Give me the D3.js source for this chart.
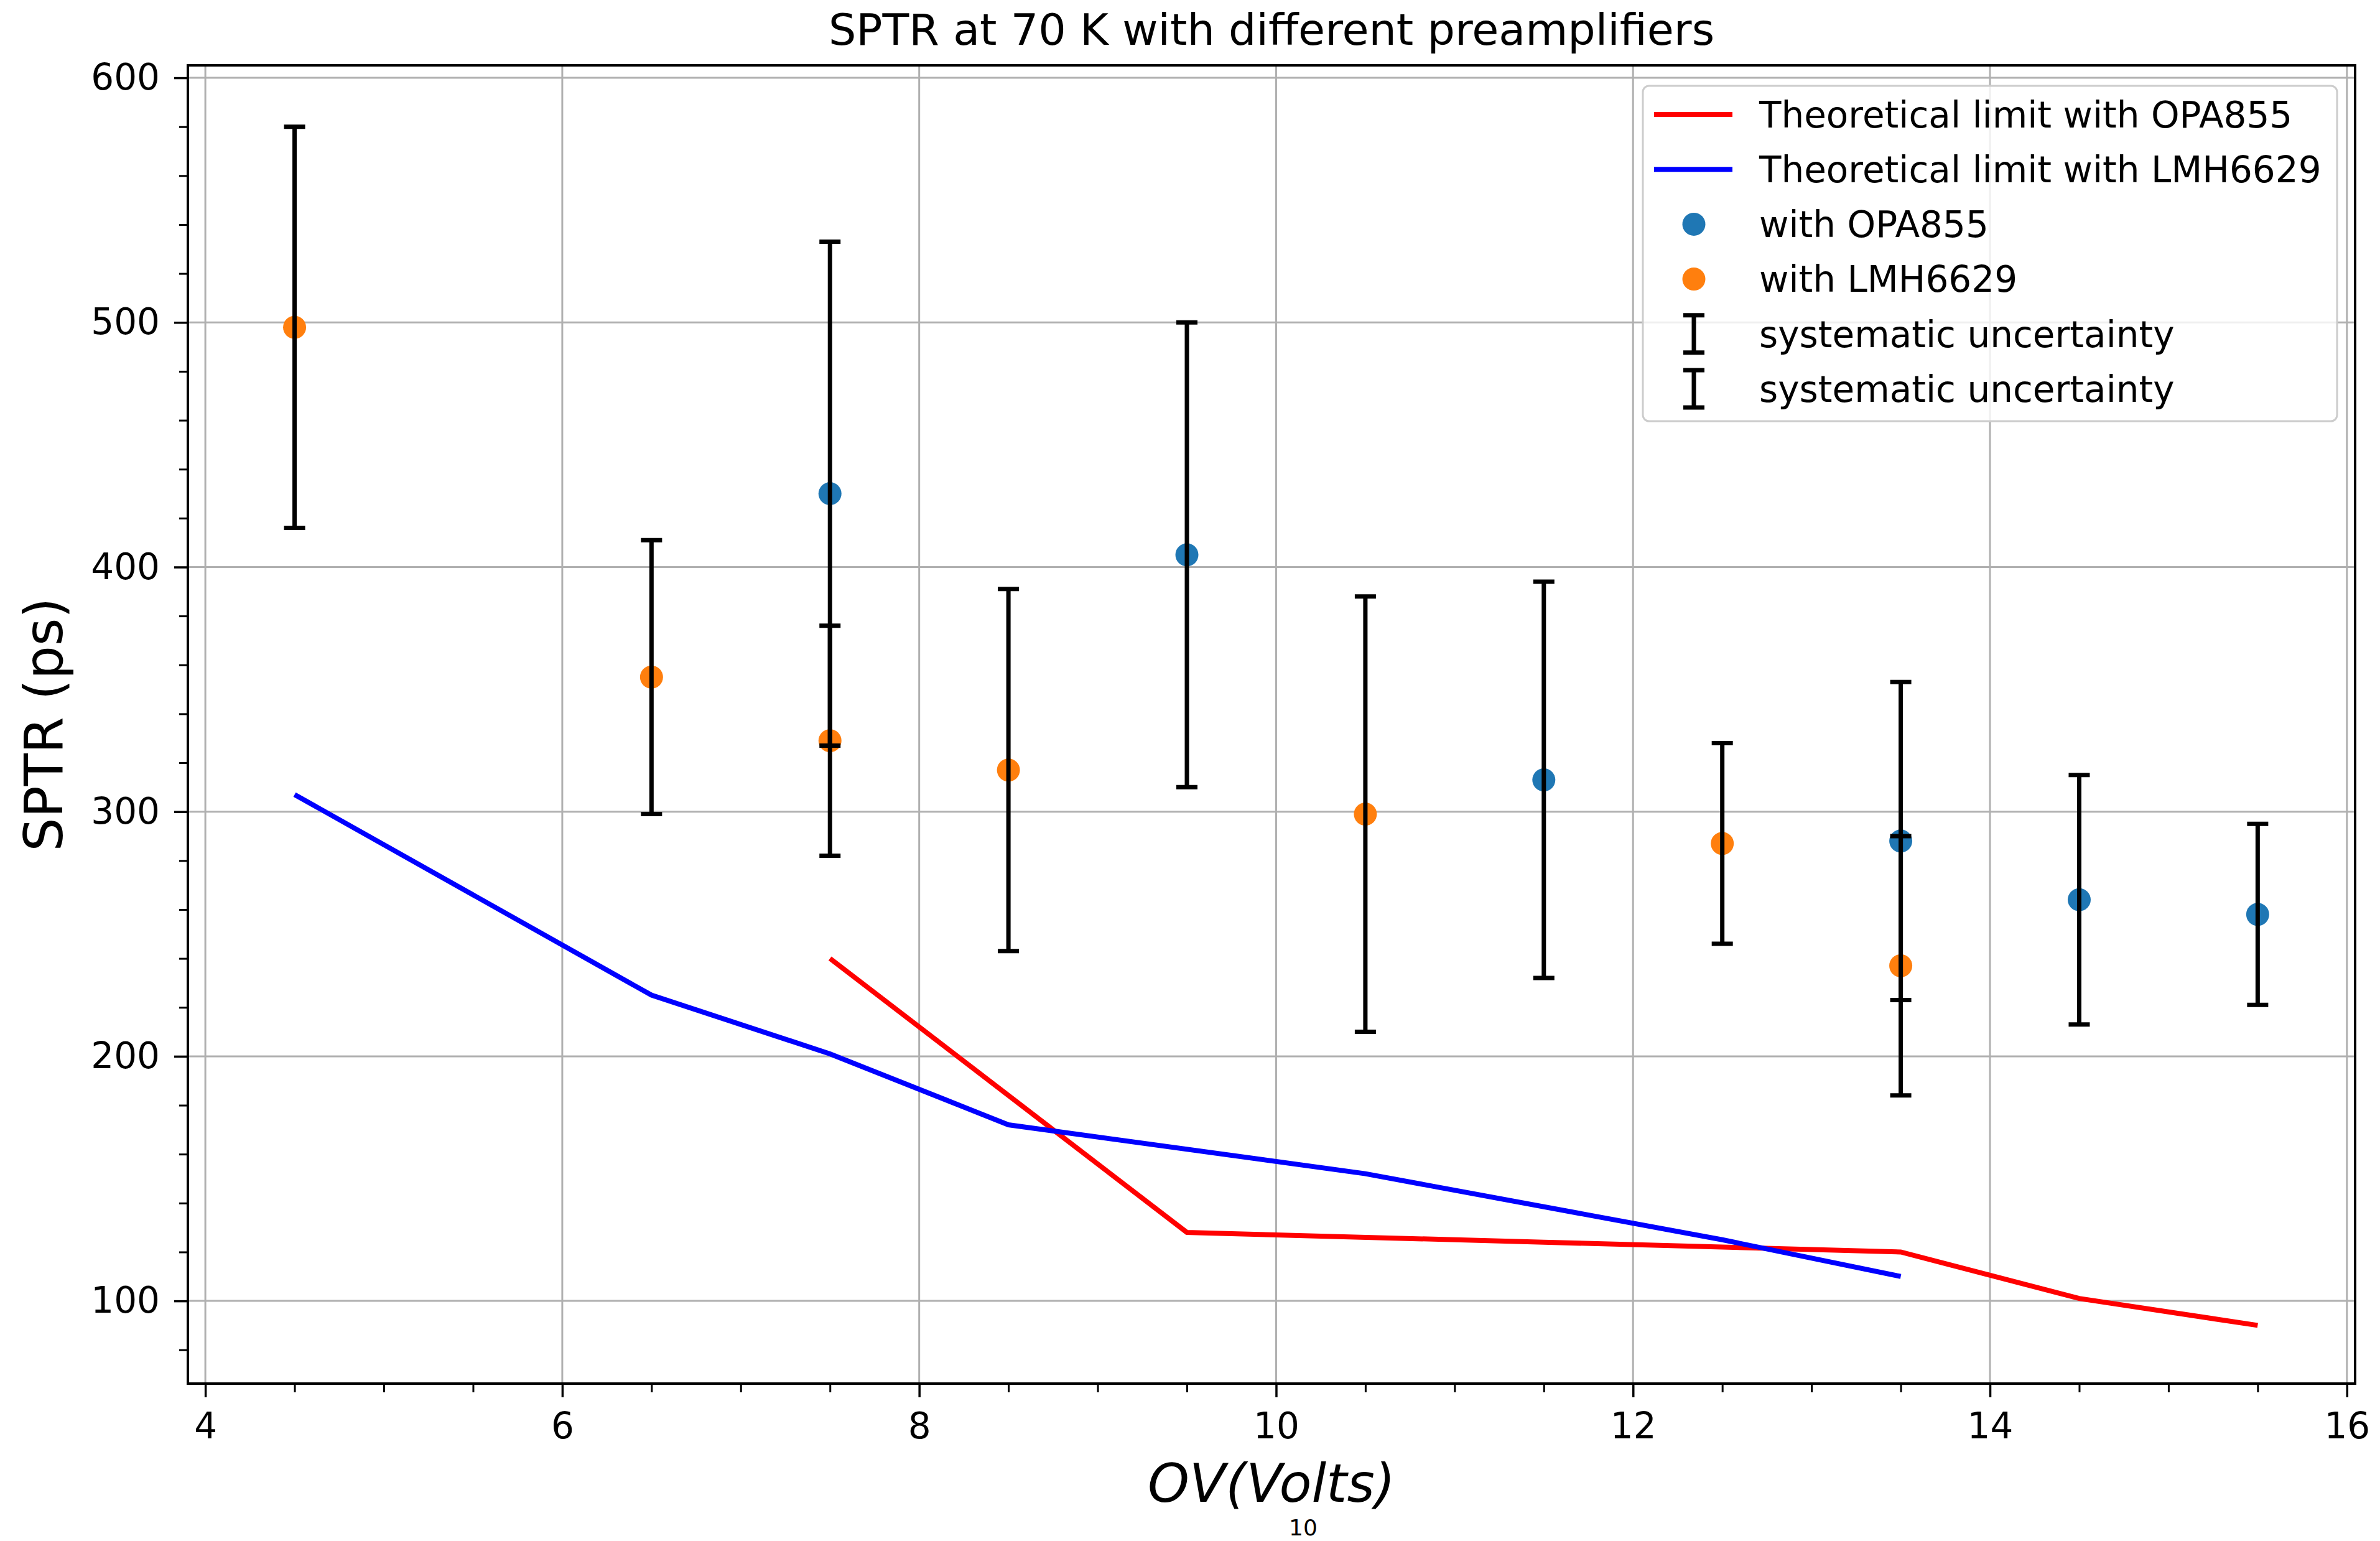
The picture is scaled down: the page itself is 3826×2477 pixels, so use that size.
<!DOCTYPE html>
<html>
<head>
<meta charset="utf-8">
<script src="https://cdn.jsdelivr.net/npm/d3@7"></script>
<style>
  body { margin: 0; background: #fff; }
  text { font-family: "DejaVu Sans", sans-serif; }
</style>
</head>
<body>
<div id="chart"></div>
<script>
// OPA855 measurements
const opaX = [7.5, 9.5, 11.5, 13.5, 14.5, 15.5];
const opaY = [430, 405, 313, 288, 264, 258];
const opaErr = [103, 95, 81, 65, 51, 37];

// LMH6629 measurements
const lmhX = [4.5, 6.5, 7.5, 8.5, 10.5, 12.5, 13.5];
const lmhY = [498, 355, 329, 317, 299, 287, 237];
const lmhErr = [82, 56, 47, 74, 89, 41, 53];

// theoretical limits
const theoOpaX = [7.5, 9.5, 11.5, 13.5, 14.5, 15.5];
const theoOpaY = [240, 128, 124, 120, 101, 90];
const theoLmhX = [4.5, 6.5, 7.5, 8.5, 10.5, 12.5, 13.5];
const theoLmhY = [307, 225, 201, 172, 152, 125, 110];

const xTicks = [4, 6, 8, 10, 12, 14, 16];
const yTicks = [100, 200, 300, 400, 500, 600];

const legendLabels = [
  "Theoretical limit with OPA855",
  "Theoretical limit with LMH6629",
  "with OPA855",
  "with LMH6629",
  "systematic uncertainty",
  "systematic uncertainty"
];

const W = 3826, H = 2477;
const margin = { top: 105, right: 40, bottom: 253, left: 302 },
  width = W - margin.left - margin.right,
  height = H - margin.top - margin.bottom;

const svg = d3.select("#chart")
  .append("svg")
  .attr("width", W)
  .attr("height", H);

const g = svg.append("g")
  .attr("transform", `translate(${margin.left}, ${margin.top})`);

const x = d3.scaleLinear().domain([3.902, 16.046]).range([0, width]);
const y = d3.scaleLinear().domain([66.2, 605.1]).range([height, 0]);

// grid
g.append("g")
  .selectAll("line")
  .data(xTicks)
  .join("line")
  .attr("x1", d => x(d)).attr("x2", d => x(d))
  .attr("y1", 0).attr("y2", height)
  .attr("stroke", "#b0b0b0").attr("stroke-width", 3);
g.append("g")
  .selectAll("line")
  .data(yTicks)
  .join("line")
  .attr("x1", 0).attr("x2", width)
  .attr("y1", d => y(d)).attr("y2", d => y(d))
  .attr("stroke", "#b0b0b0").attr("stroke-width", 3);

// minor ticks
const xMinor = d3.range(4, 16.01, 0.5).filter(v => v % 2 !== 0);
const yMinor = d3.range(80, 601, 20).filter(v => v % 100 !== 0);

g.append("g")
  .attr("transform", `translate(0, ${height})`)
  .call(d3.axisBottom(x).tickValues(xMinor).tickSize(14).tickFormat(""))
  .call(a => a.select(".domain").remove())
  .selectAll("line").attr("stroke-width", 3);
g.append("g")
  .call(d3.axisLeft(y).tickValues(yMinor).tickSize(14).tickFormat(""))
  .call(a => a.select(".domain").remove())
  .selectAll("line").attr("stroke-width", 3);

// major axes
const xAxis = g.append("g")
  .attr("transform", `translate(0, ${height})`)
  .call(d3.axisBottom(x).tickValues(xTicks).tickSize(22).tickPadding(25).tickFormat(d3.format("d")));
xAxis.select(".domain").remove();
xAxis.selectAll("line").attr("stroke-width", 3.5);
xAxis.selectAll("text").style("font-size", "58px").attr("fill", "#000");

const yAxis = g.append("g")
  .call(d3.axisLeft(y).tickValues(yTicks).tickSize(22).tickPadding(23));
yAxis.select(".domain").remove();
yAxis.selectAll("line").attr("stroke-width", 3.5);
yAxis.selectAll("text").style("font-size", "58px").attr("fill", "#000");

// theoretical lines
const line = d3.line().x(d => x(d[0])).y(d => y(d[1]));

g.append("path")
  .datum(d3.zip(theoOpaX, theoOpaY))
  .attr("d", line)
  .attr("fill", "none")
  .attr("stroke", "#ff0000")
  .attr("stroke-width", 8);

g.append("path")
  .datum(d3.zip(theoLmhX, theoLmhY))
  .attr("d", line)
  .attr("fill", "none")
  .attr("stroke", "#0000ff")
  .attr("stroke-width", 8);

// scatter points
g.append("g")
  .selectAll("circle")
  .data(d3.zip(opaX, opaY))
  .join("circle")
  .attr("cx", d => x(d[0])).attr("cy", d => y(d[1]))
  .attr("r", 18.5)
  .attr("fill", "#1f77b4");

g.append("g")
  .selectAll("circle")
  .data(d3.zip(lmhX, lmhY))
  .join("circle")
  .attr("cx", d => x(d[0])).attr("cy", d => y(d[1]))
  .attr("r", 18.5)
  .attr("fill", "#ff7f0e");

// error bars
function errorBars(xs, ys, errs) {
  const eb = g.append("g").attr("stroke", "#000").attr("stroke-width", 7);
  const rows = d3.zip(xs, ys, errs);
  eb.selectAll(".bar")
    .data(rows)
    .join("line")
    .attr("x1", d => x(d[0])).attr("x2", d => x(d[0]))
    .attr("y1", d => y(d[1] - d[2])).attr("y2", d => y(d[1] + d[2]));
  eb.selectAll(".capTop")
    .data(rows)
    .join("line")
    .attr("x1", d => x(d[0]) - 17).attr("x2", d => x(d[0]) + 17)
    .attr("y1", d => y(d[1] + d[2])).attr("y2", d => y(d[1] + d[2]));
  eb.selectAll(".capBot")
    .data(rows)
    .join("line")
    .attr("x1", d => x(d[0]) - 17).attr("x2", d => x(d[0]) + 17)
    .attr("y1", d => y(d[1] - d[2])).attr("y2", d => y(d[1] - d[2]));
}
errorBars(opaX, opaY, opaErr);
errorBars(lmhX, lmhY, lmhErr);

// frame
g.append("rect")
  .attr("width", width).attr("height", height)
  .attr("fill", "none")
  .attr("stroke", "#000")
  .attr("stroke-width", 4);

// legend
const lg = svg.append("g").attr("transform", "translate(2641, 138)");
lg.append("rect")
  .attr("width", 1116).attr("height", 539)
  .attr("rx", 10)
  .attr("fill", "#fff").attr("fill-opacity", 0.8)
  .attr("stroke", "#cccccc").attr("stroke-width", 3);

const rowY = i => 46 + i * 88.2;
const handleX = 82;

legendLabels.forEach(function(label, i) {
  const row = lg.append("g").attr("transform", `translate(0, ${rowY(i)})`);
  if (i < 2) {
    row.append("line")
      .attr("x1", 18).attr("x2", 144)
      .attr("stroke", i === 0 ? "#ff0000" : "#0000ff")
      .attr("stroke-width", 8);
  } else if (i < 4) {
    row.append("circle")
      .attr("cx", handleX).attr("r", 18.5)
      .attr("fill", i === 2 ? "#1f77b4" : "#ff7f0e");
  } else {
    const eg = row.append("g").attr("stroke", "#000").attr("stroke-width", 7);
    eg.append("line").attr("x1", handleX).attr("x2", handleX).attr("y1", -30).attr("y2", 30);
    eg.append("line").attr("x1", handleX - 17).attr("x2", handleX + 17).attr("y1", -30).attr("y2", -30);
    eg.append("line").attr("x1", handleX - 17).attr("x2", handleX + 17).attr("y1", 30).attr("y2", 30);
  }
  row.append("text")
    .attr("x", 187)
    .attr("dy", "0.36em")
    .style("font-size", "58px")
    .text(label);
});

// title and labels
svg.append("text")
  .attr("x", margin.left + width / 2)
  .attr("y", 72)
  .attr("text-anchor", "middle")
  .style("font-size", "70px")
  .text("SPTR at 70 K with different preamplifiers");

svg.append("text")
  .attr("transform", `translate(100, ${margin.top + height / 2}) rotate(-90)`)
  .attr("text-anchor", "middle")
  .style("font-size", "85px")
  .text("SPTR (ps)");

svg.append("text")
  .attr("x", margin.left + width / 2)
  .attr("y", 2414)
  .attr("text-anchor", "middle")
  .style("font-size", "85px")
  .style("font-style", "italic")
  .text("OV(Volts)");

svg.append("text")
  .attr("x", 2095)
  .attr("y", 2468)
  .attr("text-anchor", "middle")
  .style("font-size", "36px")
  .text("10");
</script>
</body>
</html>
